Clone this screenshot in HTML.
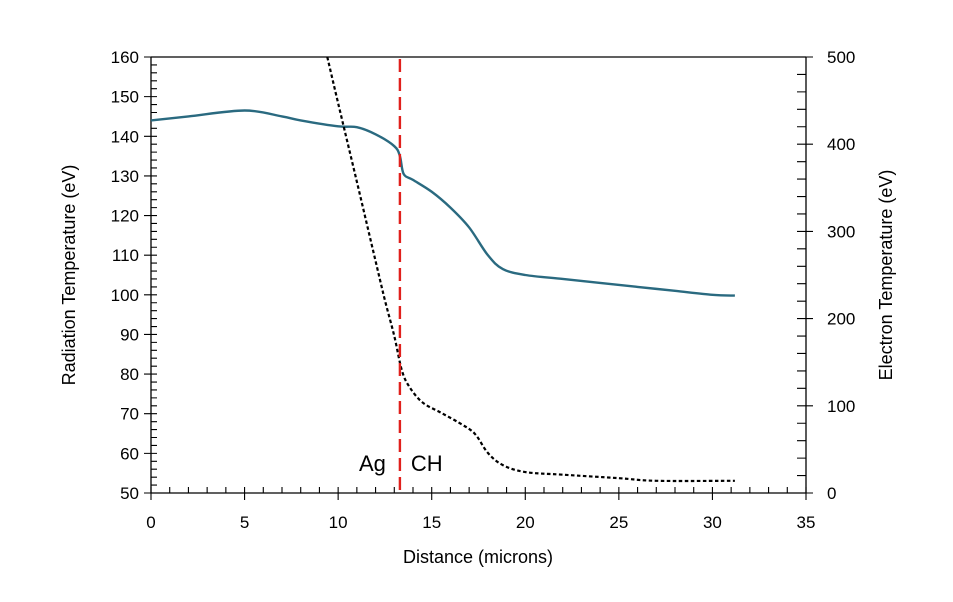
<!DOCTYPE html>
<html><head><meta charset="utf-8"><style>
html,body{margin:0;padding:0;background:#fff;}
svg{display:block;font-family:"Liberation Sans",Arial,sans-serif;}
</style></head><body>
<svg id="chart" width="953" height="602"></svg>
<script>
const radX=[0,2,5,7,8,10,11,12,13,13.3,13.5,14,15,16,17,18,18.8,20,22,24,26,28,30,31.2];
const radY=[144,145,146.5,145,144,142.5,142.3,140.5,137.5,135,130.5,129,126,122,117,110,106.5,105,104,103,102,101,100,99.8];
const eX=[9.42,10,11,12,12.5,13,13.4,13.8,14.5,15.5,16.5,17.3,18,18.8,20,22,25,27,31.2];
const eY=[500,447,357,266,221,180,141,122,104,92,80,68,46,32,24,21,17,14,14];
const xTicks=[0,5,10,15,20,25,30,35];
const yLTicks=[50,60,70,80,90,100,110,120,130,140,150,160];
const yRTicks=[0,100,200,300,400,500];
const boundary=13.3;
const L=151,R=806,T=57,B=493;
const sx=v=>L+(v/35)*(R-L);
const syL=v=>B-(v-50)/110*(B-T);
const syR=v=>B-v/500*(B-T);
const NS="http://www.w3.org/2000/svg";
const svg=document.getElementById('chart');
function mk(t,a,p){const e=document.createElementNS(NS,t);for(const k in a)e.setAttribute(k,a[k]);(p||svg).appendChild(e);return e;}
let ax=mk('path',{d:`M${L},${T}H${R}M${L},${T}V${B}H${R}V${T}`,stroke:'#000','stroke-width':1.3,fill:'none'});


let ticks='';
for(let v=0;v<=35;v++){const x=sx(v);ticks+=v%5===0?`M${x},${B-6}V${B+7}`:`M${x},${B-6}V${B}`;}
for(let v=50;v<=160;v+=2){const y=syL(v);ticks+=v%10===0?`M${L-7},${y}H${L+6}`:`M${L},${y}H${L+6}`;}
for(let v=0;v<=500;v+=20){const y=syR(v);ticks+=v%100===0?`M${R-9},${y}H${R+7}`:`M${R-9},${y}H${R}`;}
let tk=mk('path',{d:ticks,stroke:'#000','stroke-width':1.1,fill:'none'});


xTicks.forEach(v=>{const t=mk('text',{x:sx(v),y:B+35,'text-anchor':'middle','font-size':17});t.textContent=v;

});
yLTicks.forEach(v=>{const t=mk('text',{x:L-12,y:syL(v)+6,'text-anchor':'end','font-size':17});t.textContent=v;

});
yRTicks.forEach(v=>{const t=mk('text',{x:R+21,y:syR(v)+6,'text-anchor':'start','font-size':17});t.textContent=v;

});
let xt=mk('text',{x:478,y:563,'text-anchor':'middle','font-size':18});xt.textContent='Distance (microns)';


let yl=mk('text',{x:0,y:0,'text-anchor':'middle','font-size':18,transform:`translate(75,275) rotate(-90)`});yl.textContent='Radiation Temperature (eV)';


let yr=mk('text',{x:0,y:0,'text-anchor':'middle','font-size':18,transform:`translate(892,275) rotate(-90)`});yr.textContent='Electron Temperature (eV)';


function smooth(pts){let d=`M${pts[0][0]},${pts[0][1]}`;for(let i=0;i<pts.length-1;i++){const p0=pts[Math.max(0,i-1)],p1=pts[i],p2=pts[i+1],p3=pts[Math.min(pts.length-1,i+2)];
d+=`C${p1[0]+(p2[0]-p0[0])/6},${p1[1]+(p2[1]-p0[1])/6} ${p2[0]-(p3[0]-p1[0])/6},${p2[1]-(p3[1]-p1[1])/6} ${p2[0]},${p2[1]}`;}return d;}
let rl=mk('path',{d:smooth(radX.map((x,i)=>[sx(x),syL(radY[i])])),stroke:'#2a6a80','stroke-width':2.4,fill:'none'});


let el=mk('path',{d:smooth(eX.map((x,i)=>[sx(x),syR(eY[i])])),stroke:'#000','stroke-width':2.2,fill:'none','stroke-dasharray':'3.5,2.5'});


let bl=mk('line',{x1:sx(boundary),x2:sx(boundary),y1:T+2,y2:B,stroke:'#e0201c','stroke-width':2.4,'stroke-dasharray':'13,6'});


let ag=mk('text',{x:sx(boundary)-14,y:471,'text-anchor':'end','font-size':22});ag.textContent='Ag';


let ch=mk('text',{x:sx(boundary)+11,y:471,'text-anchor':'start','font-size':22});ch.textContent='CH';


</script>
</body></html>
